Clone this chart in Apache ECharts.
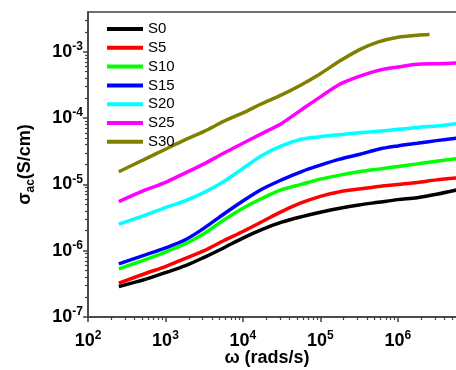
<!DOCTYPE html>
<html>
<head>
<meta charset="utf-8">
<script src="https://cdn.jsdelivr.net/npm/echarts@6/dist/echarts.min.js"></script>
<style>
  html, body { margin: 0; padding: 0; background: #fff; }
  #chart { width: 456px; height: 370px; }
</style>
</head>
<body>
<div id="chart"></div>
<script>
// angular frequency (rad/s) and sigma_ac (S/cm)
const omega = [250, 562, 1000, 1780, 3160, 5620, 1e4, 1.78e4, 3.16e4, 5.62e4,
  1e5, 1.78e5, 3.16e5, 5.62e5, 1e6, 1.78e6, 3.16e6, 6e6]
const omegaS30 = [250, 562, 1000, 1780, 3160, 5620, 1e4, 1.78e4, 3.16e4, 5.62e4,
  1e5, 1.78e5, 3.16e5, 5.62e5, 1e6, 1.78e6, 2.57e6]

const s0 = [2.88e-7, 3.72e-7, 4.68e-7, 5.89e-7, 7.94e-7, 1.10e-6, 1.55e-6, 2.09e-6, 2.69e-6, 3.24e-6,
  3.80e-6, 4.37e-6, 4.90e-6, 5.37e-6, 5.89e-6, 6.31e-6, 7.08e-6, 8.32e-6]
const s5 = [3.24e-7, 4.57e-7, 5.75e-7, 7.59e-7, 1.0e-6, 1.41e-6, 1.95e-6, 2.75e-6, 3.89e-6, 5.25e-6,
  6.61e-6, 7.76e-6, 8.51e-6, 9.33e-6, 1.0e-5, 1.07e-5, 1.17e-5, 1.26e-5]
const s10 = [5.31e-7, 7.41e-7, 9.55e-7, 1.26e-6, 1.82e-6, 2.88e-6, 4.37e-6, 6.17e-6, 8.32e-6, 1.0e-5,
  1.20e-5, 1.38e-5, 1.55e-5, 1.70e-5, 1.86e-5, 2.04e-5, 2.24e-5, 2.45e-5]
const s15 = [6.31e-7, 8.71e-7, 1.10e-6, 1.45e-6, 2.19e-6, 3.55e-6, 5.62e-6, 8.51e-6, 1.17e-5, 1.55e-5,
  1.95e-5, 2.40e-5, 2.82e-5, 3.39e-5, 3.80e-5, 4.17e-5, 4.57e-5, 5.01e-5]
const s20 = [2.51e-6, 3.47e-6, 4.47e-6, 5.62e-6, 7.59e-6, 1.10e-5, 1.74e-5, 2.75e-5, 3.80e-5, 4.79e-5,
  5.25e-5, 5.62e-5, 6.03e-5, 6.31e-5, 6.76e-5, 7.24e-5, 7.59e-5, 8.32e-5]
const s25 = [5.50e-6, 8.32e-6, 1.07e-5, 1.48e-5, 2.04e-5, 2.95e-5, 4.17e-5, 5.89e-5, 8.32e-5, 1.32e-4,
  2.09e-4, 3.24e-4, 4.27e-4, 5.25e-4, 5.89e-4, 6.46e-4, 6.61e-4, 6.76e-4]
const s30 = [1.55e-5, 2.45e-5, 3.39e-5, 4.68e-5, 6.31e-5, 8.91e-5, 1.20e-4, 1.66e-4, 2.24e-4, 3.16e-4,
  4.68e-4, 7.24e-4, 1.07e-3, 1.41e-3, 1.66e-3, 1.78e-3, 1.82e-3]

const names = ['S0', 'S5', 'S10', 'S15', 'S20', 'S25', 'S30']
const colors = ['#000000', '#ff0000', '#00ff00', '#0000ff', '#00ffff', '#ff00ff', '#808000']
const xTickExp = [2, 3, 4, 5, 6]
const yTickExp = [-7, -6, -5, -4, -3]

// axes are drawn in log10 space
const X_MIN = 2, X_MAX = 6.79
const Y_MIN = -7, Y_MAX = -2.4

const seriesX = [omega, omega, omega, omega, omega, omega, omegaS30]
const seriesY = [s0, s5, s10, s15, s20, s25, s30]

const FONT = 'Arial, "Liberation Sans", sans-serif'
const AXIS_COLOR = '#404040'

function minorTicks(lo, hi) {
  const out = []
  for (let e = Math.floor(lo); e < hi; e++) {
    for (let k = 2; k <= 9; k++) {
      const v = e + Math.log10(k)
      if (v > lo && v < hi) out.push(v)
    }
  }
  return out
}

const powRich = {
  b: { fontSize: 18, fontWeight: 'bold', fontFamily: FONT, color: '#000', lineHeight: 22 },
  s: { fontSize: 12, fontWeight: 'bold', fontFamily: FONT, color: '#000', lineHeight: 22, verticalAlign: 'top' }
}
const powLabel = v => '{b|10}{s|' + v + '}'

const chart = echarts.init(document.getElementById('chart'))
chart.setOption({
  animation: false,
  backgroundColor: '#fff',
  grid: {
    left: 88, right: -3, top: 12, bottom: 53,
    outerBoundsMode: 'none',
    show: true, borderColor: AXIS_COLOR, borderWidth: 1.5, backgroundColor: 'transparent'
  },
  legend: {
    orient: 'vertical',
    left: 102,
    top: 16,
    icon: 'rect',
    itemWidth: 36,
    itemHeight: 4,
    itemGap: 2.8,
    textStyle: { fontSize: 15, lineHeight: 16, color: '#000', fontFamily: FONT },
    data: names
  },
  xAxis: [{
    type: 'value',
    position: 'bottom',
    min: X_MIN,
    max: X_MAX,
    axisLine: { onZero: false, lineStyle: { color: AXIS_COLOR, width: 1.5 } },
    axisTick: { customValues: xTickExp, length: 5, lineStyle: { color: AXIS_COLOR, width: 1.5 } },
    axisLabel: { customValues: xTickExp, margin: 13, formatter: powLabel, rich: powRich },
    splitLine: { show: false },
    name: 'ω (rads/s)',
    nameLocation: 'middle',
    nameGap: 32,
    nameMoveOverlap: false,
    nameTextStyle: { fontSize: 18, fontWeight: 'bold', color: '#000', fontFamily: FONT, padding: [0, 13, 0, 0] }
  }, {
    type: 'value',
    position: 'bottom',
    min: X_MIN,
    max: X_MAX,
    axisLine: { show: false, onZero: false },
    axisTick: { customValues: minorTicks(X_MIN, X_MAX), length: 3, lineStyle: { color: AXIS_COLOR, width: 1.2 } },
    axisLabel: { show: false },
    splitLine: { show: false }
  }],
  yAxis: [{
    type: 'value',
    position: 'left',
    min: Y_MIN,
    max: Y_MAX,
    axisLine: { show: true, onZero: false, lineStyle: { color: AXIS_COLOR, width: 1.5 } },
    axisTick: { show: true, customValues: yTickExp, length: 5, lineStyle: { color: AXIS_COLOR, width: 1.5 } },
    axisLabel: { customValues: yTickExp, margin: 5, formatter: powLabel, rich: powRich },
    splitLine: { show: false },
    name: '{g|σ}{sub|ac}{b|(S/cm)}',
    nameLocation: 'middle',
    nameGap: 51,
    nameMoveOverlap: false,
    nameTextStyle: {
      rich: {
        g: { fontSize: 18, fontWeight: 'bold', color: '#000', fontFamily: FONT, lineHeight: 24 },
        sub: { fontSize: 12, fontWeight: 'bold', color: '#000', fontFamily: FONT, lineHeight: 24, verticalAlign: 'bottom' },
        b: { fontSize: 18, fontWeight: 'bold', color: '#000', fontFamily: FONT, lineHeight: 24 }
      }
    }
  }, {
    type: 'value',
    position: 'left',
    min: Y_MIN,
    max: Y_MAX,
    axisLine: { show: false, onZero: false },
    axisTick: { show: true, customValues: minorTicks(Y_MIN, Y_MAX), length: 3, lineStyle: { color: AXIS_COLOR, width: 1.2 } },
    axisLabel: { show: false },
    splitLine: { show: false }
  }],
  series: names.map((name, k) => ({
    name: name,
    type: 'line',
    xAxisIndex: 0,
    yAxisIndex: 0,
    smooth: 0.3,
    showSymbol: false,
    symbol: 'none',
    color: colors[k],
    lineStyle: { width: 3.5, color: colors[k] },
    data: seriesX[k].map((w, i) => [Math.log10(w), Math.log10(seriesY[k][i])])
  }))
})
</script>
</body>
</html>
